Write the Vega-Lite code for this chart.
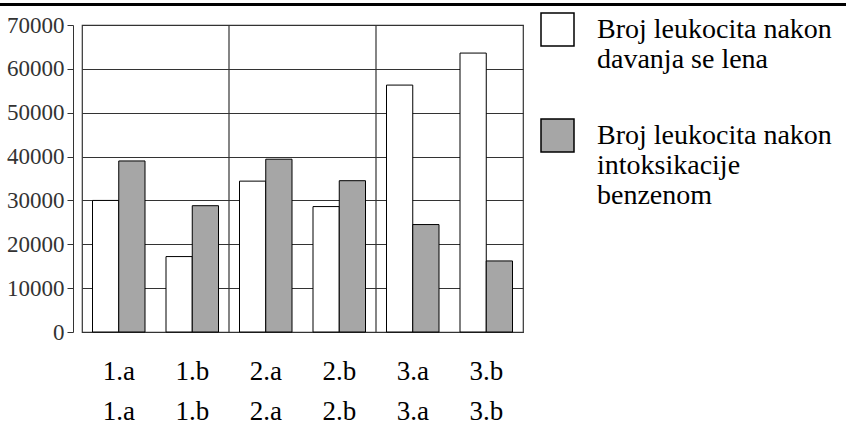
{
  "$schema": "https://vega.github.io/schema/vega-lite/v6.json",
  "width": 441,
  "height": 307,
  "autosize": {"type": "none"},
  "padding": {"left": 82, "top": 25, "right": 323, "bottom": 105},
  "background": "white",
  "config": {
    "view": {"stroke": "#333", "strokeWidth": 1.2},
    "font": "Liberation Serif",
    "axis": {"labelFont": "Liberation Serif"},
    "legend": {"labelFont": "Liberation Serif"}
  },
  "datasets": {
    "bars": [
      {"cat": "1.a", "series": "Broj leukocita nakon|davanja se lena", "value": 30000},
      {"cat": "1.a", "series": " Broj leukocita nakon| intoksikacije| benzenom", "value": 39000},
      {"cat": "1.b", "series": "Broj leukocita nakon|davanja se lena", "value": 17200},
      {"cat": "1.b", "series": " Broj leukocita nakon| intoksikacije| benzenom", "value": 28800},
      {"cat": "2.a", "series": "Broj leukocita nakon|davanja se lena", "value": 34400},
      {"cat": "2.a", "series": " Broj leukocita nakon| intoksikacije| benzenom", "value": 39400},
      {"cat": "2.b", "series": "Broj leukocita nakon|davanja se lena", "value": 28600},
      {"cat": "2.b", "series": " Broj leukocita nakon| intoksikacije| benzenom", "value": 34500},
      {"cat": "3.a", "series": "Broj leukocita nakon|davanja se lena", "value": 56300},
      {"cat": "3.a", "series": " Broj leukocita nakon| intoksikacije| benzenom", "value": 24500},
      {"cat": "3.b", "series": "Broj leukocita nakon|davanja se lena", "value": 63600},
      {"cat": "3.b", "series": " Broj leukocita nakon| intoksikacije| benzenom", "value": 16200}
    ],
    "groups": [{"cat": "2.a"}, {"cat": "3.a"}],
    "topline": [{"x1": -0.19, "x2": 1.75, "y": 74700}]
  },
  "layer": [
    {
      "layer": [
        {
          "data": {"name": "bars"},
          "mark": {"type": "bar", "stroke": "black", "strokeWidth": 1},
          "encoding": {
            "x": {
              "field": "cat", "type": "nominal", "sort": null,
              "scale": {"paddingInner": 0, "paddingOuter": 0},
              "axis": {
                "title": null, "labelAngle": 0, "domain": false, "ticks": false,
                "labelFont": "Liberation Serif",
                "labelFontSize": 27, "labelColor": "black", "labelPadding": 26,
                "labelBaseline": "top", "labelLineHeight": 40,
                "labelExpr": "[datum.label, datum.label]"
              }
            },
            "xOffset": {
              "field": "series", "type": "nominal", "sort": null,
              "scale": {"paddingInner": 0, "paddingOuter": 0.4}
            },
            "y": {
              "field": "value", "type": "quantitative",
              "scale": {"domain": [0, 70000], "nice": false},
              "axis": {
                "title": null, "values": [0, 10000, 20000, 30000, 40000, 50000, 60000, 70000],
                "format": "d", "offset": 9, "tickSize": 6, "labelPadding": 3,
                "labelFont": "Liberation Serif",
                "labelFontSize": 23, "labelColor": "#333", "domainColor": "#333",
                "tickColor": "#333", "grid": true, "gridColor": "#333", "gridWidth": 1.2
              }
            },
            "fill": {
              "field": "series", "type": "nominal", "sort": null,
              "scale": {"range": ["white", "#a6a6a6"]},
              "legend": {
                "title": null, "orient": "none", "legendX": 458, "legendY": -13,
                "symbolType": "square", "symbolSize": 1089, "symbolStrokeColor": "black",
                "symbolStrokeWidth": 1.5, "labelFont": "Liberation Serif",
                "labelFontSize": 28, "labelLineHeight": 32,
                "labelLimit": 320, "labelOffset": 22, "rowPadding": 42, "labelColor": "black",
                "labelExpr": "split(datum.label, '|')"
              }
            }
          }
        },
        {
          "data": {"name": "groups"},
          "mark": {"type": "rule", "color": "#333", "strokeWidth": 1.2},
          "encoding": {
            "x": {"field": "cat", "type": "nominal", "bandPosition": 0}
          }
        }
      ]
    },
    {
      "data": {"name": "topline"},
      "mark": {"type": "rule", "color": "black", "strokeWidth": 3, "clip": false},
      "encoding": {
        "x": {"field": "x1", "type": "quantitative", "scale": {"domain": [0, 1]}, "axis": null},
        "x2": {"field": "x2"},
        "y": {"field": "y", "type": "quantitative"}
      }
    }
  ],
  "resolve": {"scale": {"x": "independent"}, "axis": {"x": "independent"}}
}
